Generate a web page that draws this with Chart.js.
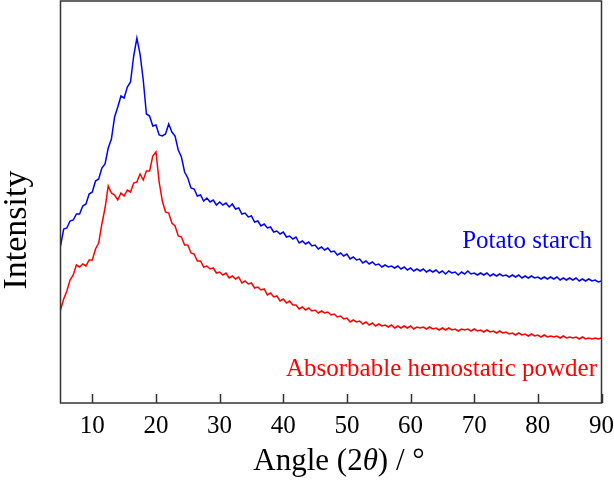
<!DOCTYPE html>
<html lang="en">
<head>
<meta charset="UTF-8">
<title>XRD</title>
<script src="https://cdn.jsdelivr.net/npm/chart.js@4.4.0/dist/chart.umd.min.js"></script>
<style>
    body { margin: 0; background: #fff; }
    canvas { display: block; }
</style>
</head>
<body>
<canvas id="myChart" width="614" height="481"></canvas>
<script>
    // Angles (2 theta), every 0.5 degree
    const angles = [
        5, 5.5, 6, 6.5, 7, 7.5, 8, 8.5, 9, 9.5,
        10, 10.5, 11, 11.5, 12, 12.5, 13, 13.5, 14, 14.5,
        15, 15.5, 16, 16.5, 17, 17.5, 18, 18.5, 19, 19.5,
        20, 20.5, 21, 21.5, 22, 22.5, 23, 23.5, 24, 24.5,
        25, 25.5, 26, 26.5, 27, 27.5, 28, 28.5, 29, 29.5,
        30, 30.5, 31, 31.5, 32, 32.5, 33, 33.5, 34, 34.5,
        35, 35.5, 36, 36.5, 37, 37.5, 38, 38.5, 39, 39.5,
        40, 40.5, 41, 41.5, 42, 42.5, 43, 43.5, 44, 44.5,
        45, 45.5, 46, 46.5, 47, 47.5, 48, 48.5, 49, 49.5,
        50, 50.5, 51, 51.5, 52, 52.5, 53, 53.5, 54, 54.5,
        55, 55.5, 56, 56.5, 57, 57.5, 58, 58.5, 59, 59.5,
        60, 60.5, 61, 61.5, 62, 62.5, 63, 63.5, 64, 64.5,
        65, 65.5, 66, 66.5, 67, 67.5, 68, 68.5, 69, 69.5,
        70, 70.5, 71, 71.5, 72, 72.5, 73, 73.5, 74, 74.5,
        75, 75.5, 76, 76.5, 77, 77.5, 78, 78.5, 79, 79.5,
        80, 80.5, 81, 81.5, 82, 82.5, 83, 83.5, 84, 84.5,
        85, 85.5, 86, 86.5, 87, 87.5, 88, 88.5, 89, 89.5,
        90
    ];

    // Potato starch intensity (arbitrary units)
    const potatoStarch = [
        157, 174, 175, 182, 183, 189, 189, 197, 199, 209,
        211, 222, 224, 235, 239, 255, 264, 286, 296, 307,
        305, 316, 321, 347, 365, 349, 323, 289, 287, 277,
        278, 268, 267, 269, 279, 271, 267, 253, 246, 231,
        225, 215, 214, 207, 208, 202, 205, 201, 203, 198,
        201, 198, 200, 196, 199, 194, 195, 189, 190, 186,
        187, 181, 182, 177, 179, 175, 176, 171, 172, 169,
        171, 166, 167, 164, 166, 160, 162, 159, 161, 157,
        158, 154, 156, 153, 155, 151, 152, 148, 150, 147,
        149, 144, 146, 143, 144, 140, 142, 139, 141, 138,
        139, 136, 138, 136, 137, 135, 137, 134, 136, 133,
        135, 132, 134, 132, 134, 131, 133, 131, 133, 130,
        132, 129, 132, 130, 131, 128, 131, 129, 132, 129,
        130, 128, 130, 128, 130, 127, 129, 127, 129, 127,
        128, 126, 128, 126, 128, 125, 127, 125, 127, 125,
        126, 124, 126, 124, 126, 124, 126, 123, 125, 123,
        125, 123, 125, 122, 124, 122, 124, 122, 123, 121,
        122
    ];

    // Absorbable hemostatic powder intensity (arbitrary units)
    const hemostaticPowder = [
        93, 104, 112, 123, 128, 138, 136, 139, 137, 143,
        143, 154, 160, 179, 195, 217, 210, 208, 203, 210,
        207, 213, 211, 220, 221, 229, 223, 232, 232, 247,
        251, 221, 202, 191, 190, 180, 177, 167, 166, 158,
        158, 150, 149, 142, 142, 136, 137, 134, 135, 130,
        131, 128, 130, 125, 127, 124, 126, 120, 122, 119,
        120, 115, 116, 113, 114, 108, 110, 106, 107, 102,
        104, 100, 102, 98, 98, 94, 96, 93, 95, 92,
        93, 90, 92, 90, 91, 88, 89, 86, 87, 84,
        85, 81, 83, 81, 82, 79, 81, 78, 80, 77,
        79, 77, 78, 76, 78, 75, 77, 75, 77, 75,
        77, 74, 76, 75, 76, 74, 76, 74, 75, 73,
        75, 73, 75, 73, 74, 72, 74, 73, 74, 72,
        74, 72, 73, 71, 73, 71, 72, 70, 72, 70,
        71, 69, 70, 68, 70, 68, 69, 67, 69, 67,
        68, 66, 68, 66, 67, 66, 67, 65, 67, 65,
        66, 65, 66, 64, 66, 64, 65, 64, 65, 64,
        65
    ];

    const xTicks = [10, 20, 30, 40, 50, 60, 70, 80, 90];

    const serif = "'Liberation Serif', 'Times New Roman', serif";

    // Frame, inner ticks and all texts
    const decor = {
        id: 'decor',
        afterDatasetsDraw(chart) {
            const ctx = chart.ctx;
            const a = chart.chartArea;
            const xs = chart.scales.x;
            ctx.save();
            ctx.strokeStyle = '#333';
            ctx.lineWidth = 1.5;
            ctx.strokeRect(a.left, a.top, a.right - a.left, a.bottom - a.top);
            ctx.beginPath();
            xTicks.forEach(v => {
                const px = Math.round(xs.getPixelForValue(v)) + 0.5;
                ctx.moveTo(px, a.bottom);
                ctx.lineTo(px, a.bottom - 9);
            });
            ctx.stroke();

            // Series labels
            ctx.textAlign = 'right';
            ctx.textBaseline = 'alphabetic';
            ctx.font = '25px ' + serif;
            ctx.fillStyle = '#0000ff';
            ctx.fillText('Potato starch', 592, 248);
            ctx.fillStyle = '#ff0000';
            ctx.fillText('Absorbable hemostatic powder', 597, 376);

            // y title
            ctx.fillStyle = '#000';
            ctx.save();
            ctx.translate(26, 230);
            ctx.rotate(-Math.PI / 2);
            ctx.textAlign = 'center';
            ctx.font = '34px ' + serif;
            ctx.fillText('Intensity', 0, 0);
            ctx.restore();

            // x title with italic theta
            const parts = [
                ['Angle (2', '31px ' + serif],
                ['\u03b8', 'italic 31px ' + serif],
                [') / \u00b0', '31px ' + serif]
            ];
            let total = 0;
            parts.forEach(p => { ctx.font = p[1]; total += ctx.measureText(p[0]).width; });
            let x = 339 - total / 2;
            ctx.textAlign = 'left';
            parts.forEach(p => {
                ctx.font = p[1];
                ctx.fillText(p[0], x, 470);
                x += ctx.measureText(p[0]).width;
            });
            ctx.restore();
        }
    };

    const ctx = document.getElementById('myChart').getContext('2d');
    const chart = new Chart(ctx, {
        type: 'line',
        data: {
            datasets: [{
                label: 'Potato starch',
                data: angles.map((a, i) => ({ x: a, y: potatoStarch[i] })),
                borderColor: '#0000ff',
                borderWidth: 1.5,
                pointRadius: 0,
                tension: 0
            }, {
                label: 'Absorbable hemostatic powder',
                data: angles.map((a, i) => ({ x: a, y: hemostaticPowder[i] })),
                borderColor: '#ff0000',
                borderWidth: 1.5,
                pointRadius: 0,
                tension: 0
            }]
        },
        options: {
            responsive: false,
            animation: false,
            devicePixelRatio: 1,
            layout: { padding: { left: 60.5, right: 12.5, top: 1, bottom: 0 } },
            plugins: {
                legend: { display: false },
                tooltip: { enabled: false }
            },
            scales: {
                x: {
                    type: 'linear',
                    min: 5,
                    max: 90,
                    afterBuildTicks: s => { s.ticks = xTicks.map(v => ({ value: v })); },
                    afterFit: s => {
                        s.height = 78;
                        s.paddingLeft = 0;
                        s.paddingRight = 0;
                    },
                    grid: { display: false, drawTicks: false },
                    border: { display: false },
                    ticks: {
                        color: '#000',
                        padding: 8,
                        maxRotation: 0,
                        autoSkip: false,
                        font: { family: serif, size: 25 }
                    }
                },
                y: {
                    display: false,
                    min: 0,
                    max: 402
                }
            }
        },
        plugins: [decor]
    });
</script>
</body>
</html>
